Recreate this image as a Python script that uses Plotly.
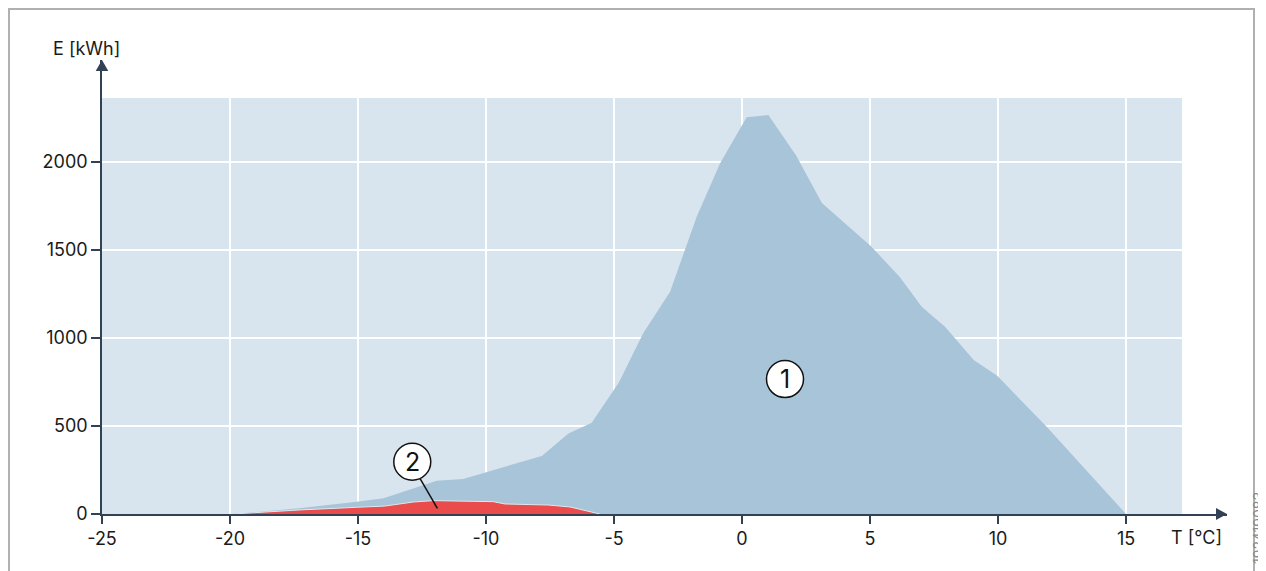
import plotly.graph_objects as go

# Data
total_T = [-19.9, -17.3, -15.05, -14.0, -11.93, -10.89, -7.82, -6.78, -5.87, -4.8,
           -3.86, -2.81, -1.77, -0.86, 0.18, 1.03, 2.12, 3.12, 5.05, 6.17,
           7.02, 7.93, 9.05, 9.97, 11.9, 15.0]
total_E = [0, 32, 70, 89, 189, 199, 330, 458, 519, 750,
           1027, 1263, 1689, 1992, 2254, 2267, 2036, 1768, 1520, 1345,
           1178, 1064, 875, 785, 496, 0]

part_T = [-19.9, -17.27, -15.05, -13.95, -12.84, -12.06, -9.71, -9.26, -7.57, -6.72, -5.55]
part_E = [0, 23, 38, 45, 68, 76, 70, 57, 51, 40, 0]

x_ticks = [-25, -20, -15, -10, -5, 0, 5, 10, 15]
y_ticks = [0, 500, 1000, 1500, 2000]

FONT = "Inter"
AXIS = "#334155"
TXT = "#1a1a1a"

fig = go.Figure()
fig.add_trace(go.Scatter(x=total_T, y=total_E, mode="lines", fill="tozeroy",
                         fillcolor="#a7c4d8", line=dict(width=0, color="#a7c4d8"),
                         hoverinfo="skip", showlegend=False))
fig.add_trace(go.Scatter(x=part_T, y=part_E, mode="lines", fill="tozeroy",
                         fillcolor="#ea4b4b", line=dict(width=1, color="#dfe8ef"),
                         hoverinfo="skip", showlegend=False))

shapes = [
    # light plot background
    dict(type="rect", xref="x", yref="y", x0=-25, x1=17.19, y0=0, y1=2364,
         fillcolor="#d9e5ee", line=dict(width=0), layer="below"),
    # outer frame
    dict(type="rect", xref="paper", yref="paper", x0=-0.0827, x1=1.024, y0=-0.4, y1=1.1123,
         line=dict(color="#b0b0b0", width=2), fillcolor="rgba(0,0,0,0)"),
    # axis arrowheads (paper-referenced so they are not clipped)
    dict(type="path", xref="paper", yref="paper", xsizemode="pixel", ysizemode="pixel",
         xanchor=0, yanchor=1, path="M -6.3,-11 L 0,0 L 6.3,-11 Z",
         fillcolor=AXIS, line=dict(width=0)),
    dict(type="path", xref="paper", yref="paper", xsizemode="pixel", ysizemode="pixel",
         xanchor=1, yanchor=0, path="M 0,0 L -11,6 L -11,-6 Z",
         fillcolor=AXIS, line=dict(width=0)),
    # callout 2 leader line
    dict(type="line", xref="x", yref="y", x0=-12.58, y0=203, x1=-11.90, y1=32,
         line=dict(color="#111111", width=1.5)),
    # callout circles
    dict(type="circle", xref="x", yref="y", xsizemode="pixel", ysizemode="pixel",
         xanchor=1.68, yanchor=767, x0=-18.5, x1=18.5, y0=-18.5, y1=18.5,
         fillcolor="white", line=dict(color="#111111", width=1.5)),
    dict(type="circle", xref="x", yref="y", xsizemode="pixel", ysizemode="pixel",
         xanchor=-12.88, yanchor=297, x0=-18.5, x1=18.5, y0=-18.5, y1=18.5,
         fillcolor="white", line=dict(color="#111111", width=1.5)),
]

annotations = [
    dict(text="1", x=1.68, y=767, xref="x", yref="y", showarrow=False,
         xanchor="center", yanchor="middle",
         font=dict(family=FONT, size=25, color="#111111")),
    dict(text="2", x=-12.88, y=297, xref="x", yref="y", showarrow=False,
         xanchor="center", yanchor="middle",
         font=dict(family=FONT, size=25, color="#111111")),
    dict(text="E [kWh]", x=-0.0142, y=1.0264, xref="paper", yref="paper", showarrow=False,
         xanchor="center", yanchor="middle",
         font=dict(family=FONT, size=18, color=TXT)),
    dict(text="T [°C]", x=0.9733, y=-0.0507, xref="paper", yref="paper", showarrow=False,
         xanchor="center", yanchor="middle",
         font=dict(family=FONT, size=18, color=TXT)),
    dict(text="192419083", x=1.0284, y=-0.0308, xref="paper", yref="paper", showarrow=False,
         xanchor="center", yanchor="middle", textangle=-90,
         font=dict(family=FONT, size=14, color="#8a8a8a")),
]

fig.update_layout(
    width=1266, height=571,
    margin=dict(l=94, r=47, t=52, b=65),
    paper_bgcolor="white", plot_bgcolor="white",
    font=dict(family=FONT, size=18, color=TXT),
    shapes=shapes, annotations=annotations,
    xaxis=dict(range=[-25, 18.945], tickvals=x_ticks, ticktext=[str(v) for v in x_ticks],
               showgrid=True, gridcolor="white", gridwidth=1.5, zeroline=False,
               showline=True, linecolor=AXIS, linewidth=1.5,
               ticks="outside", ticklen=8, tickcolor=AXIS, tickwidth=1.5,
               tickfont=dict(family=FONT, size=18, color=TXT), fixedrange=True),
    yaxis=dict(range=[0, 2580], tickvals=y_ticks, ticktext=[str(v) for v in y_ticks],
               showgrid=True, gridcolor="white", gridwidth=1.5, zeroline=False,
               showline=True, linecolor=AXIS, linewidth=1.5,
               ticks="outside", ticklen=9, tickcolor=AXIS, tickwidth=1.5,
               tickfont=dict(family=FONT, size=18, color=TXT), fixedrange=True),
)

fig.write_html("out.html")
